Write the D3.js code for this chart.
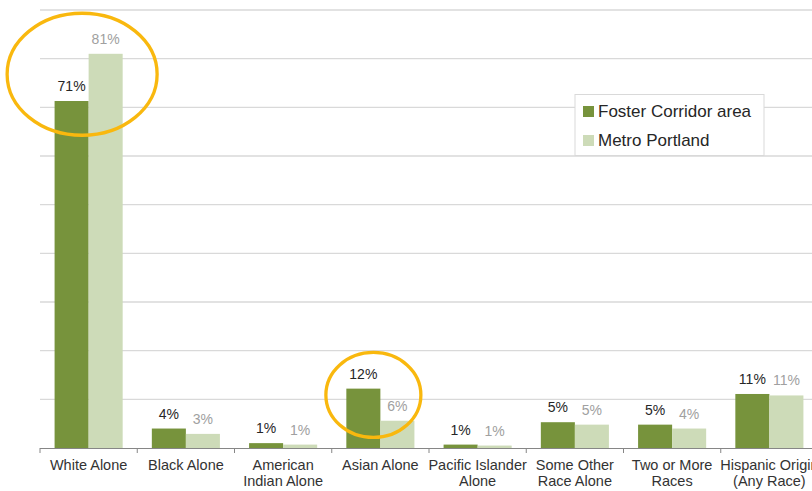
<!DOCTYPE html>
<html>
<head>
<meta charset="utf-8">
<script src="https://cdn.jsdelivr.net/npm/d3@7"></script>
<style>
  html, body { margin: 0; padding: 0; background: #fff; }
  svg { display: block; font-family: "Liberation Sans", Arial, sans-serif; }
</style>
</head>
<body>
<svg id="chart" width="812" height="491"></svg>
<script>
// Race / ethnicity shares (%)
const categories = [
  "White Alone", "Black Alone", "American Indian Alone", "Asian Alone",
  "Pacific Islander Alone", "Some Other Race Alone", "Two or More Races",
  "Hispanic Origin (Any Race)"
];
const categoryLines = [
  ["White Alone"], ["Black Alone"], ["American", "Indian Alone"], ["Asian Alone"],
  ["Pacific Islander", "Alone"], ["Some Other", "Race Alone"], ["Two or More", "Races"],
  ["Hispanic Origin", "(Any Race)"]
];
const seriesNames = ["Foster Corridor area", "Metro Portland"];
const fosterValues = [71.3, 4.0, 1.0, 12.2, 0.7, 5.3, 4.8, 11.1];
const metroValues  = [81.0, 2.9, 0.7, 5.6, 0.5, 4.8, 4.0, 10.8];
const yTicks = [0, 10, 20, 30, 40, 50, 60, 70, 80, 90];
// Categories called out with a ring
const highlighted = ["White Alone", "Asian Alone"];

const colors = { [seriesNames[0]]: "#77933C", [seriesNames[1]]: "#CDDBB8" };
const labelColors = { [seriesNames[0]]: "#262626", [seriesNames[1]]: "#A0A0A0" };

const svg = d3.select("#chart");
const plotLeft = 40, plotRight = 818, plotTop = 10, plotBase = 448;

const x = d3.scaleBand().domain(categories).range([plotLeft, plotRight])
  .paddingInner(0.3).paddingOuter(0.15);
const xs = d3.scaleBand().domain(seriesNames).range([0, x.bandwidth()]);
const y = d3.scaleLinear().domain([0, 90]).range([plotBase, plotTop]);

const rows = categories.map((c, i) => ({
  category: c,
  values: [
    { series: seriesNames[0], value: fosterValues[i] },
    { series: seriesNames[1], value: metroValues[i] }
  ]
}));

// Horizontal gridlines
svg.append("g")
  .selectAll("line")
  .data(yTicks.filter(t => t > 0))
  .join("line")
  .attr("x1", plotLeft).attr("x2", 812)
  .attr("y1", d => y(d)).attr("y2", d => y(d))
  .attr("stroke", "#D9D9D9").attr("stroke-width", 1.3);

// Bars
const groups = svg.append("g").selectAll("g")
  .data(rows).join("g")
  .attr("transform", d => `translate(${x(d.category)},0)`);

groups.selectAll("rect")
  .data(d => d.values).join("rect")
  .attr("x", d => xs(d.series))
  .attr("width", xs.bandwidth())
  .attr("y", d => y(d.value))
  .attr("height", d => y(0) - y(d.value))
  .attr("fill", d => colors[d.series]);

// Value labels
groups.selectAll("text")
  .data(d => d.values).join("text")
  .attr("x", d => xs(d.series) + xs.bandwidth() / 2)
  .attr("y", d => y(d.value) - 10)
  .attr("text-anchor", "middle")
  .attr("font-size", 14)
  .attr("fill", d => labelColors[d.series])
  .text(d => Math.round(d.value) + "%");

// Category axis
const axis = svg.append("g");
axis.append("line")
  .attr("x1", plotLeft).attr("x2", 812)
  .attr("y1", plotBase + 0.5).attr("y2", plotBase + 0.5)
  .attr("stroke", "#868686").attr("stroke-width", 1);
const boundaries = categories.map(c => x(c) - x.step() * x.paddingInner() / 2);
axis.selectAll("line.tick")
  .data(boundaries).join("line").attr("class", "tick")
  .attr("x1", d => d).attr("x2", d => d)
  .attr("y1", plotBase).attr("y2", plotBase + 5)
  .attr("stroke", "#868686");

axis.selectAll("text")
  .data(categories).join("text")
  .attr("x", c => x(c) + x.bandwidth() / 2)
  .attr("y", 470)
  .attr("text-anchor", "middle")
  .attr("font-size", 14.5)
  .attr("fill", "#333")
  .each(function (c, i) {
    d3.select(this).selectAll("tspan")
      .data(categoryLines[i]).join("tspan")
      .attr("x", x(c) + x.bandwidth() / 2)
      .attr("dy", (d, j) => j === 0 ? 0 : 16)
      .text(d => d);
  });

// Highlight rings
const ringStyle = {
  "White Alone": { at: 76.8, dx: -6.5, rx: 75, ry: 61 },
  "Asian Alone": { at: 10.9, dx: -7, rx: 47.5, ry: 42.5 }
};
svg.append("g").selectAll("ellipse")
  .data(highlighted).join("ellipse")
  .attr("cx", c => x(c) + x.bandwidth() / 2 + ringStyle[c].dx)
  .attr("cy", c => y(ringStyle[c].at))
  .attr("rx", c => ringStyle[c].rx)
  .attr("ry", c => ringStyle[c].ry)
  .attr("fill", "none")
  .attr("stroke", "#F9B80E")
  .attr("stroke-width", 3.3);

// Legend
const legend = svg.append("g").attr("transform", "translate(575,94.5)");
legend.append("rect")
  .attr("width", 189).attr("height", 61)
  .attr("fill", "#fff").attr("stroke", "#D9D9D9");
const items = legend.selectAll("g.item")
  .data(seriesNames).join("g").attr("class", "item")
  .attr("transform", (d, i) => `translate(8,${11.5 + i * 29})`);
items.append("rect")
  .attr("width", 11).attr("height", 11)
  .attr("fill", d => colors[d]);
items.append("text")
  .attr("x", 15).attr("y", 11)
  .attr("font-size", 17)
  .attr("fill", "#262626")
  .text(d => d);
</script>
</body>
</html>
